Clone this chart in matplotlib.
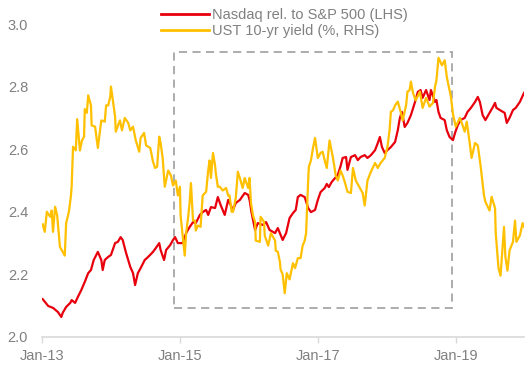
import matplotlib
matplotlib.use("Agg")
import matplotlib.pyplot as plt
from matplotlib.patches import Rectangle

# ---- data (decimal years) ----
nasdaq_t = [2013.01, 2013.09, 2013.16, 2013.23, 2013.28, 2013.30, 2013.35, 2013.41, 2013.43, 2013.48,
            2013.52, 2013.57, 2013.62, 2013.67, 2013.71, 2013.75, 2013.81, 2013.86, 2013.88, 2013.91,
            2013.96, 2014.00, 2014.06, 2014.10, 2014.14, 2014.17, 2014.22, 2014.28, 2014.32, 2014.35,
            2014.39, 2014.43, 2014.49, 2014.54, 2014.61, 2014.65, 2014.70, 2014.72, 2014.77, 2014.80,
            2014.86, 2014.90, 2014.93, 2014.97, 2015.04, 2015.09, 2015.14, 2015.19, 2015.23, 2015.29,
            2015.33, 2015.38, 2015.41, 2015.45, 2015.51, 2015.55, 2015.59, 2015.62, 2015.65, 2015.70,
            2015.77, 2015.81, 2015.87, 2015.94, 2015.99, 2016.01, 2016.04, 2016.09, 2016.13, 2016.20,
            2016.25, 2016.30, 2016.38, 2016.42, 2016.46, 2016.49, 2016.54, 2016.59, 2016.64, 2016.68,
            2016.71, 2016.75, 2016.81, 2016.86, 2016.90, 2016.96, 2017.00, 2017.04, 2017.10, 2017.13,
            2017.16, 2017.20, 2017.25, 2017.29, 2017.33, 2017.36, 2017.41, 2017.43, 2017.48, 2017.54,
            2017.58, 2017.62, 2017.68, 2017.72, 2017.77, 2017.83, 2017.87, 2017.90, 2017.93, 2017.97,
            2018.01, 2018.06, 2018.12, 2018.16, 2018.19, 2018.22, 2018.26, 2018.30, 2018.35, 2018.41,
            2018.45, 2018.49, 2018.52, 2018.57, 2018.62, 2018.64, 2018.70, 2018.72, 2018.75, 2018.78,
            2018.84, 2018.87, 2018.91, 2018.96, 2018.99, 2019.03, 2019.07, 2019.13, 2019.17, 2019.22,
            2019.28, 2019.32, 2019.35, 2019.39, 2019.43, 2019.49, 2019.54, 2019.57, 2019.59, 2019.64,
            2019.71, 2019.74, 2019.78, 2019.83, 2019.87, 2019.93, 2019.99]
nasdaq_v = [2.121, 2.099, 2.093, 2.080, 2.064, 2.077, 2.096, 2.109, 2.118, 2.109,
            2.128, 2.150, 2.176, 2.204, 2.214, 2.246, 2.272, 2.246, 2.214, 2.246,
            2.256, 2.262, 2.300, 2.304, 2.319, 2.310, 2.268, 2.224, 2.204, 2.166,
            2.204, 2.220, 2.246, 2.256, 2.272, 2.284, 2.300, 2.278, 2.246, 2.278,
            2.294, 2.310, 2.319, 2.300, 2.300, 2.332, 2.351, 2.367, 2.364, 2.390,
            2.399, 2.406, 2.390, 2.415, 2.412, 2.447, 2.422, 2.406, 2.390, 2.438,
            2.406, 2.428, 2.438, 2.460, 2.454, 2.438, 2.396, 2.342, 2.364, 2.358,
            2.367, 2.342, 2.332, 2.348, 2.326, 2.310, 2.332, 2.380, 2.396, 2.406,
            2.447, 2.454, 2.447, 2.412, 2.399, 2.406, 2.438, 2.463, 2.476, 2.489,
            2.479, 2.495, 2.508, 2.518, 2.546, 2.572, 2.575, 2.534, 2.575, 2.581,
            2.565, 2.575, 2.581, 2.572, 2.581, 2.597, 2.620, 2.639, 2.607, 2.588,
            2.597, 2.607, 2.623, 2.661, 2.700, 2.719, 2.671, 2.684, 2.709, 2.751,
            2.783, 2.789, 2.764, 2.789, 2.757, 2.789, 2.751, 2.757, 2.719, 2.700,
            2.693, 2.661, 2.639, 2.629, 2.652, 2.677, 2.693, 2.700, 2.719, 2.732,
            2.751, 2.767, 2.751, 2.709, 2.693, 2.716, 2.735, 2.748, 2.732, 2.725,
            2.716, 2.684, 2.700, 2.725, 2.732, 2.751, 2.780]

ust_t = [2013.01, 2013.04, 2013.07, 2013.12, 2013.14, 2013.16, 2013.19, 2013.22, 2013.26, 2013.30,
         2013.33, 2013.35, 2013.39, 2013.42, 2013.43, 2013.45, 2013.49, 2013.51, 2013.55, 2013.58,
         2013.61, 2013.62, 2013.65, 2013.67, 2013.71, 2013.72, 2013.77, 2013.81, 2013.86, 2013.91,
         2013.93, 2013.96, 2013.99, 2014.00, 2014.03, 2014.06, 2014.07, 2014.13, 2014.16, 2014.20,
         2014.25, 2014.28, 2014.32, 2014.36, 2014.41, 2014.43, 2014.48, 2014.51, 2014.57, 2014.61,
         2014.64, 2014.67, 2014.70, 2014.72, 2014.75, 2014.78, 2014.83, 2014.87, 2014.90, 2014.94,
         2014.97, 2015.00, 2015.01, 2015.04, 2015.07, 2015.09, 2015.12, 2015.14, 2015.16, 2015.19,
         2015.22, 2015.23, 2015.26, 2015.30, 2015.33, 2015.38, 2015.41, 2015.43, 2015.45, 2015.48,
         2015.51, 2015.52, 2015.55, 2015.58, 2015.62, 2015.67, 2015.70, 2015.72, 2015.75, 2015.77,
         2015.81, 2015.84, 2015.88, 2015.91, 2015.94, 2015.99, 2016.01, 2016.03, 2016.06, 2016.09,
         2016.10, 2016.16, 2016.17, 2016.22, 2016.23, 2016.28, 2016.32, 2016.38, 2016.39, 2016.42,
         2016.45, 2016.46, 2016.49, 2016.52, 2016.55, 2016.59, 2016.64, 2016.67, 2016.71, 2016.75,
         2016.78, 2016.81, 2016.83, 2016.86, 2016.87, 2016.90, 2016.93, 2016.96, 2017.00, 2017.04,
         2017.07, 2017.10, 2017.13, 2017.17, 2017.22, 2017.26, 2017.29, 2017.33, 2017.36, 2017.39,
         2017.43, 2017.48, 2017.51, 2017.55, 2017.61, 2017.65, 2017.68, 2017.72, 2017.77, 2017.83,
         2017.87, 2017.91, 2017.97, 2018.01, 2018.04, 2018.06, 2018.09, 2018.12, 2018.16, 2018.20,
         2018.23, 2018.28, 2018.30, 2018.33, 2018.35, 2018.38, 2018.42, 2018.48, 2018.52, 2018.57,
         2018.62, 2018.67, 2018.70, 2018.72, 2018.75, 2018.80, 2018.84, 2018.87, 2018.88, 2018.93,
         2018.96, 2019.00, 2019.06, 2019.10, 2019.13, 2019.16, 2019.20, 2019.23, 2019.28, 2019.32,
         2019.36, 2019.41, 2019.43, 2019.49, 2019.52, 2019.57, 2019.58, 2019.62, 2019.65, 2019.70,
         2019.72, 2019.75, 2019.78, 2019.83, 2019.86, 2019.88, 2019.93, 2019.97, 2019.99]
ust_v = [1.90, 1.84, 2.00, 1.96, 2.01, 1.84, 2.04, 1.97, 1.72, 1.68,
         1.65, 1.91, 2.00, 2.13, 2.20, 2.52, 2.49, 2.74, 2.49, 2.57,
         2.60, 2.82, 2.79, 2.93, 2.85, 2.69, 2.68, 2.51, 2.73, 2.72,
         2.85, 2.85, 2.92, 3.00, 2.88, 2.76, 2.64, 2.73, 2.65, 2.75,
         2.71, 2.65, 2.68, 2.57, 2.48, 2.59, 2.63, 2.53, 2.51, 2.40,
         2.35, 2.36, 2.60, 2.55, 2.43, 2.20, 2.33, 2.29, 2.21, 2.25,
         2.13, 2.20, 1.97, 1.81, 1.65, 1.83, 1.96, 2.07, 2.23, 1.93,
         1.93, 1.85, 1.89, 1.88, 2.13, 2.16, 2.33, 2.41, 2.27, 2.47,
         2.37, 2.31, 2.20, 2.20, 2.17, 2.19, 2.13, 2.13, 2.00, 2.00,
         2.11, 2.32, 2.25, 2.19, 2.27, 2.19, 2.27, 2.07, 1.97, 1.92,
         1.77, 1.76, 1.96, 1.92, 1.81, 1.73, 1.83, 1.77, 1.69, 1.68,
         1.60, 1.54, 1.50, 1.35, 1.51, 1.46, 1.59, 1.55, 1.63, 1.63,
         1.73, 1.77, 1.83, 2.25, 2.36, 2.41, 2.51, 2.59, 2.43, 2.47,
         2.48, 2.41, 2.35, 2.57, 2.43, 2.29, 2.25, 2.33, 2.29, 2.24,
         2.16, 2.15, 2.35, 2.25, 2.19, 2.15, 2.05, 2.25, 2.32, 2.39,
         2.35, 2.39, 2.43, 2.52, 2.65, 2.80, 2.81, 2.85, 2.88, 2.80,
         2.73, 2.85, 2.96, 2.97, 3.04, 2.95, 2.89, 2.96, 2.83, 2.91,
         2.84, 2.87, 3.00, 3.05, 3.23, 3.17, 3.21, 3.08, 3.05, 2.92,
         2.78, 2.68, 2.75, 2.69, 2.64, 2.72, 2.56, 2.43, 2.55, 2.53,
         2.37, 2.13, 2.08, 2.01, 2.12, 2.03, 1.83, 1.55, 1.49, 1.88,
         1.64, 1.53, 1.69, 1.76, 1.93, 1.76, 1.81, 1.91, 1.88]

x_ticks = [2013, 2015, 2017, 2019]
x_tick_labels = ["Jan-13", "Jan-15", "Jan-17", "Jan-19"]
lhs_ticks = [2.0, 2.2, 2.4, 2.6, 2.8, 3.0]
series_labels = ["Nasdaq rel. to S&P 500 (LHS)", "UST 10-yr yield (%, RHS)"]
highlight_period = (2014.91, 2018.94)
highlight_range = (2.093, 2.91)

RED = "#e8000d"
GOLD = "#ffc000"
GRAY = "#808080"

plt.rcParams["font.family"] = ["Liberation Sans", "DejaVu Sans"]

fig = plt.figure(figsize=(5.31, 3.76), dpi=100)
ax = fig.add_axes([42/531, 1-337/376, (524-42)/531, (337-24)/376])
ax2 = ax.twinx()

l1, = ax.plot(nasdaq_t, nasdaq_v, color=RED, lw=1.6, zorder=3)
l2, = ax2.plot(ust_t, ust_v, color=GOLD, lw=1.6, zorder=3)

ax.set_xlim(2013.0, 2019.99)
ax.set_ylim(2.0, 3.0)
ax2.set_ylim(1.0, 3.5)

ax.add_patch(Rectangle((highlight_period[0], highlight_range[0]),
                       highlight_period[1]-highlight_period[0],
                       highlight_range[1]-highlight_range[0],
                       fill=False, edgecolor="#a6a6a6", lw=1.3,
                       linestyle=(0, (4.5, 3.0)), zorder=2))

ax.set_yticks(lhs_ticks)
ax.set_yticklabels([f"{v:.1f}" for v in lhs_ticks])
ax.set_xticks(x_ticks)
ax.set_xticklabels(x_tick_labels)
ax.tick_params(axis="y", length=0, pad=10, labelsize=10.5, labelcolor=GRAY)
ax.tick_params(axis="x", length=4, width=1, color="#d9d9d9", pad=4.5,
               labelsize=10.5, labelcolor=GRAY)
for s in ["top", "right", "left"]:
    ax.spines[s].set_visible(False)
    ax2.spines[s].set_visible(False)
ax.spines["bottom"].set_color("#d9d9d9")
ax.spines["bottom"].set_linewidth(1.2)
ax2.spines["bottom"].set_visible(False)
ax2.set_yticks([])

leg = fig.legend([l1, l2], series_labels, loc="upper left",
                 bbox_to_anchor=(161/531, 1-8/376), frameon=False,
                 fontsize=10.5, handlelength=3.3, handletextpad=0.2,
                 labelspacing=0.15, borderpad=0, borderaxespad=0)
for t in leg.get_texts():
    t.set_color(GRAY)
for h in leg.get_lines():
    h.set_linewidth(2.0)

fig.savefig("out.png", dpi=100)
